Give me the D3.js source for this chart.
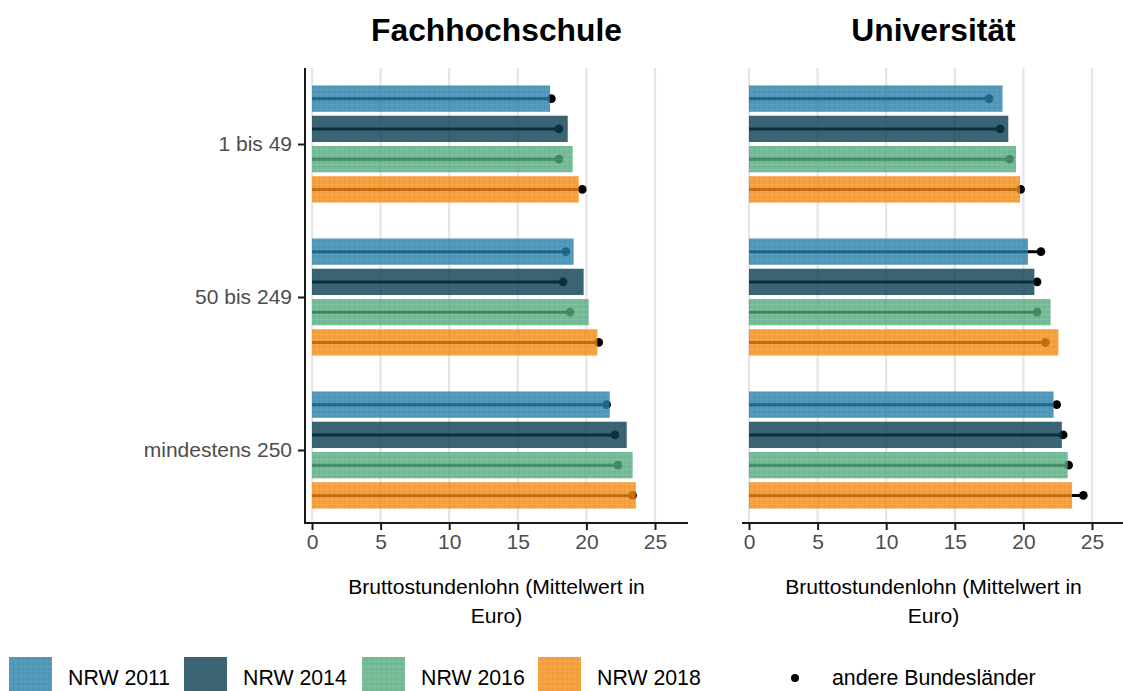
<!DOCTYPE html>
<meta charset="utf-8">
<script src="https://d3js.org/d3.v7.min.js"></script>
<style>
  body { margin: 0; background: #fff; font-family: "Liberation Sans", Arial, sans-serif; }
  .tick text { fill: #4d4d4d; font-size: 21px; }
  .panelTitle { font-weight: bold; font-size: 31.8px; text-anchor: middle; fill: #000; }
  .axisTitle { font-size: 21.1px; text-anchor: middle; fill: #000; }
  .legendLabel { font-size: 21.3px; fill: #000; }
</style>
<body></body>
<script>

// categories
var groups = ["1 bis 49", "50 bis 249", "mindestens 250"];
var years = ["NRW 2011", "NRW 2014", "NRW 2016", "NRW 2018"];
var panels = ["Fachhochschule", "Universität"];
var xTicks = [0, 5, 10, 15, 20, 25];

// mean gross hourly wage, rows = groups, cols = years
var fhNRW   = [[17.35, 18.64, 19.0, 19.44], [19.07, 19.8, 20.17, 20.8], [21.7, 22.94, 23.37, 23.6]];
var fhOther = [[17.45, 18.0, 18.0, 19.7], [18.5, 18.3, 18.8, 20.9], [21.48, 22.08, 22.3, 23.37]];
var uniNRW   = [[18.48, 18.9, 19.46, 19.75], [20.33, 20.8, 21.98, 22.55], [22.2, 22.8, 23.23, 23.55]];
var uniOther = [[17.5, 18.3, 19.0, 19.8], [21.28, 21.0, 21.0, 21.6], [22.43, 22.9, 23.3, 24.37]];

var colors = ["#277ea8", "#093d50", "#54aa7e", "#f58811"];

var W = 1123, H = 691;
var svg = d3.select("body").append("svg").attr("width", W).attr("height", H);

// grid-like texture for the bars
var defs = svg.append("defs");
colors.forEach(function(c, i) {
  var p = defs.append("pattern")
      .attr("id", "pat" + i)
      .attr("width", 5).attr("height", 5)
      .attr("patternUnits", "userSpaceOnUse");
  p.append("rect").attr("width", 5).attr("height", 5).attr("fill", c);
  p.append("rect").attr("x", 4).attr("width", 1).attr("height", 5)
      .attr("fill", d3.color(c).darker(0.4)).attr("opacity", 0.5);
  p.append("rect").attr("y", 4).attr("width", 5).attr("height", 1)
      .attr("fill", d3.color(c).brighter(0.4)).attr("opacity", 0.5);
});

var panelTop = 68, panelBottom = 523;
var y0 = d3.scaleBand().domain(groups).range([67.5, 526.5]);
var y1 = d3.scaleBand().domain(years)
    .range([-60.5, 60.5]).paddingInner(0.13).paddingOuter(0.065);

var panelData = [
  {name: panels[0], left: 305, right: 688, zero: 312, nrw: fhNRW, other: fhOther, yAxis: true},
  {name: panels[1], left: 742, right: 1125, zero: 749, nrw: uniNRW, other: uniOther, yAxis: false}
];

panelData.forEach(function(P) {
  var x = d3.scaleLinear().domain([0, 25]).range([P.zero, P.zero + 343]);
  var g = svg.append("g");

  // gridlines
  g.selectAll(".grid").data(xTicks).enter().append("line")
      .attr("x1", x).attr("x2", x)
      .attr("y1", panelTop).attr("y2", panelBottom)
      .attr("stroke", "#e5e5e5").attr("stroke-width", 2.2);

  var rows = [];
  groups.forEach(function(gr, gi) {
    years.forEach(function(yr, yi) {
      rows.push({group: gr, year: yr, yi: yi, nrw: P.nrw[gi][yi], other: P.other[gi][yi]});
    });
  });
  function cy(d) { return y0(d.group) + y0.bandwidth() / 2 + y1(d.year) + y1.bandwidth() / 2; }

  // other states: segment + dot (drawn beneath the translucent bars)
  g.selectAll(".seg").data(rows).enter().append("line")
      .attr("x1", x(0)).attr("x2", function(d) { return x(d.other); })
      .attr("y1", cy).attr("y2", cy)
      .attr("stroke", "#000").attr("stroke-width", 3);
  g.selectAll(".dot").data(rows).enter().append("circle")
      .attr("cx", function(d) { return x(d.other); })
      .attr("cy", cy).attr("r", 4.3).attr("fill", "#000");

  // NRW bars
  g.selectAll(".bar").data(rows).enter().append("rect")
      .attr("x", x(0))
      .attr("y", function(d) { return y0(d.group) + y0.bandwidth() / 2 + y1(d.year); })
      .attr("width", function(d) { return x(d.nrw) - x(0); })
      .attr("height", y1.bandwidth())
      .attr("fill", function(d) { return "url(#pat" + d.yi + ")"; })
      .attr("opacity", 0.8);

  // x axis
  var xa = g.append("g")
      .attr("transform", "translate(0," + panelBottom + ")")
      .call(d3.axisBottom(x).tickValues(xTicks).tickSize(7).tickPadding(4));
  xa.select(".domain").remove();
  xa.selectAll(".tick line").attr("stroke", "#1a1a1a").attr("stroke-width", 2);
  xa.selectAll(".tick text").attr("font-family", null).attr("font-size", null);
  g.append("line")
      .attr("x1", P.left).attr("x2", P.right)
      .attr("y1", panelBottom).attr("y2", panelBottom)
      .attr("stroke", "#1a1a1a").attr("stroke-width", 2);

  if (P.yAxis) {
    var ya = g.append("g")
        .attr("transform", "translate(" + P.left + ",0)")
        .call(d3.axisLeft(d3.scalePoint().domain(groups)
          .range([y0(groups[0]) + y0.bandwidth() / 2, y0(groups[2]) + y0.bandwidth() / 2]))
          .tickSize(7).tickPadding(6));
    ya.select(".domain").remove();
    ya.selectAll(".tick line").attr("stroke", "#1a1a1a").attr("stroke-width", 2);
    ya.selectAll(".tick text").attr("font-family", null).attr("font-size", null);
    g.append("line")
        .attr("x1", P.left).attr("x2", P.left)
        .attr("y1", panelTop).attr("y2", panelBottom + 1)
        .attr("stroke", "#1a1a1a").attr("stroke-width", 2);
  }

  var cx = (P.left + P.right) / 2;
  g.append("text").attr("class", "panelTitle")
      .attr("x", cx).attr("y", 41).text(P.name);
  var t = g.append("text").attr("class", "axisTitle").attr("x", cx).attr("y", 594);
  t.append("tspan").attr("x", cx).text("Bruttostundenlohn (Mittelwert in");
  t.append("tspan").attr("x", cx).attr("dy", 29).text("Euro)");
});

// legend
var legX = [9, 184, 362, 538];
var leg = svg.append("g").selectAll("g").data(years).enter().append("g")
    .attr("transform", function(d, i) { return "translate(" + legX[i] + ",657)"; });
leg.append("rect").attr("width", 43).attr("height", 34)
    .attr("fill", function(d, i) { return "url(#pat" + i + ")"; })
    .attr("opacity", 0.8);
leg.append("text").attr("class", "legendLabel")
    .attr("x", 59).attr("y", 28).text(function(d) { return d; });

svg.append("circle").attr("cx", 795).attr("cy", 678).attr("r", 4).attr("fill", "#000");
svg.append("text").attr("class", "legendLabel")
    .attr("x", 832).attr("y", 685).text("andere Bundesländer");

</script>
